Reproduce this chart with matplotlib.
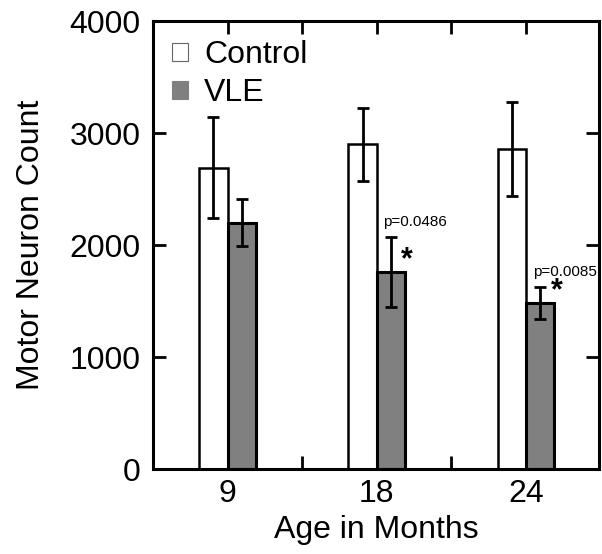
import numpy as np
import matplotlib
matplotlib.use('Agg')
import matplotlib.pyplot as plt
from matplotlib.patches import Patch

plt.rcParams['font.family'] = ['Liberation Sans', 'DejaVu Sans']

ages = ['9', '18', '24']
control_mean = [2690, 2900, 2855]
control_err = [450, 325, 420]
vle_mean = [2200, 1758, 1482]
vle_err = [212, 313, 140]
p_labels = ['', 'p=0.0486', 'p=0.0085']

x = np.arange(len(ages))
w = 0.19

fig = plt.figure(figsize=(6.02, 5.54), dpi=100)
ax = fig.add_axes([0.254, 0.153, 0.741, 0.809])

ax.bar(x - w / 2, control_mean, w, color='white', edgecolor='black', linewidth=1.8, zorder=2)
ax.bar(x + w / 2, vle_mean, w, color='#808080', edgecolor='black', linewidth=2.2, zorder=2)
ax.errorbar(x - w / 2, control_mean, yerr=control_err, fmt='none', ecolor='black',
            elinewidth=2, capsize=4, capthick=2, zorder=3)
ax.errorbar(x + w / 2, vle_mean, yerr=vle_err, fmt='none', ecolor='black',
            elinewidth=2, capsize=4, capthick=2, zorder=3)

# significance notes
for i in range(len(ages)):
    if p_labels[i]:
        top = vle_mean[i] + vle_err[i]
        ax.text(x[i] + w / 2 - 0.05, top + 75, p_labels[i], fontsize=11, ha='left', va='bottom')
        ax.text(x[i] + w + 0.015, vle_mean[i] + 105, '*', fontsize=22, ha='center', va='center',
                fontweight='bold')

ax.set_xlim(-0.5, 2.49)
ax.set_ylim(0, 4000)
ax.set_xticks(x)
ax.set_xticklabels(ages)
ax.set_xticks([0.5, 1.5], minor=True)
ax.set_yticks([0, 1000, 2000, 3000, 4000])
ax.tick_params(axis='both', which='both', direction='in', length=9.5, width=2,
               labelsize=23, top=True, right=True)
ax.tick_params(axis='x', which='major', pad=7)
ax.tick_params(axis='y', pad=9)
for s in ax.spines.values():
    s.set_linewidth(2.2)

ax.set_xlabel('Age in Months', fontsize=23, labelpad=4)
ax.set_ylabel('Motor Neuron Count', fontsize=23, labelpad=17)

handles = [Patch(facecolor='white', edgecolor='#666666', linewidth=0.8, label='Control'),
           Patch(facecolor='#808080', edgecolor='#808080', linewidth=0.8, label='VLE')]
ax.legend(handles=handles, loc='upper left', frameon=False, fontsize=23,
          handlelength=0.5, handleheight=0.5, handletextpad=0.5,
          labelspacing=0.25, borderaxespad=0.3, borderpad=0.3)

fig.savefig('out.png', dpi=100)
